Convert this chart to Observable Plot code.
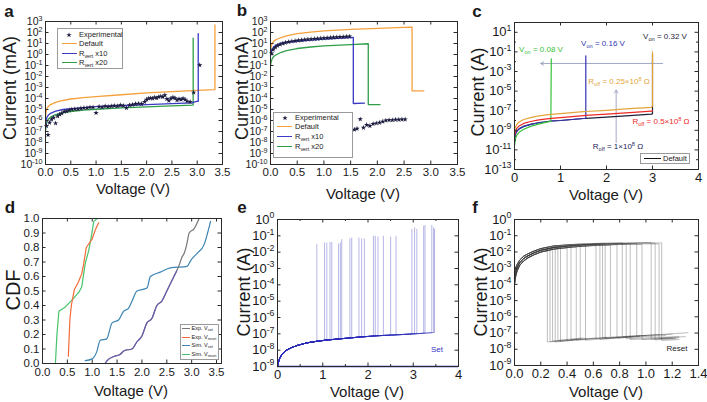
<!DOCTYPE html>
<html><head><meta charset="utf-8">
<script src="https://cdn.jsdelivr.net/npm/d3@7"></script>
<script src="https://cdn.jsdelivr.net/npm/@observablehq/plot@0.6"></script>
<style>
html,body{margin:0;padding:0;background:#fff}
#fig{position:relative;width:707px;height:402px;overflow:hidden;font-family:'Liberation Sans',Arial,Helvetica,sans-serif;color:#1a1a1a}
.pn{position:absolute}
.lbl{position:absolute;white-space:nowrap;line-height:1}
.lbl sub{font-size:0.7em;vertical-align:-0.3em;line-height:0}
.lbl sup{font-size:0.7em;vertical-align:0.45em;line-height:0}
.lg{position:absolute;border:1px solid #9a9a9a;background:#fff;box-sizing:border-box}
</style></head><body><div id="fig"></div>
<script>
// ---------------- Panel a ----------------
const aDefaultV = [0,0.01,0.03,0.06,0.1,0.2,0.3,0.5,0.75,1.0,1.5,2.0,2.5,3.0,3.34,3.35,3.35];
const aDefaultI = [2e-6,6.3e-6,1.26e-5,2e-5,2.8e-5,4.5e-5,6e-5,9e-5,1.2e-4,1.5e-4,2.2e-4,3.2e-4,4.2e-4,5.4e-4,6.3e-4,6.3e-4,5e2];
const aR10V = [0,0.01,0.03,0.06,0.1,0.2,0.35,0.5,0.75,1.0,1.5,2.0,2.5,2.9,2.95,3.0,3.02,3.02];
const aR10I = [2.5e-7,1e-6,2e-6,3.2e-6,4.5e-6,7e-6,1e-5,1.2e-5,1.5e-5,1.8e-5,2.2e-5,2.8e-5,3.4e-5,4e-5,5e-5,5.6e-5,5.6e-5,8e1];
const aR20V = [0,0.01,0.03,0.06,0.1,0.2,0.35,0.5,0.75,1.0,1.5,2.0,2.5,2.9,2.92,2.92];
const aR20I = [1e-7,3.2e-7,8e-7,1.4e-6,2e-6,3.5e-6,5.2e-6,6.6e-6,8.7e-6,1.05e-5,1.4e-5,1.7e-5,2.1e-5,2.5e-5,2.6e-5,3e1];
const aExpV = [0.02,0.05,0.08,0.12,0.16,0.2,0.24,0.28,0.32,0.37,0.42,0.47,0.52,0.58,0.64,0.7,0.76,0.82,0.88,0.94,1.0,1.06,1.12,1.18,1.24,1.3,1.36,1.42,1.48,1.54,1.6,1.66,1.72,1.78,1.84,1.9,1.96,2.0,2.04,2.08,2.12,2.16,2.2,2.24,2.28,2.32,2.36,2.4,2.44,2.48,2.52,2.56,2.6,2.64,2.68,2.72,2.76,2.8,2.86,2.93,3.05];
const aExpI = [3.2e-7,5e-8,6.3e-7,1.26e-6,1.8e-6,5.6e-7,2.5e-6,3.5e-6,4.5e-6,6.3e-6,7e-6,8.9e-6,1e-5,1.1e-5,1.1e-5,1.26e-5,1.4e-5,1.4e-5,1.6e-5,1.6e-5,5e-6,1.8e-5,1.6e-5,2e-5,1.8e-5,2e-5,2.2e-5,2e-5,2.5e-5,2.2e-5,1.4e-5,2.5e-5,2.8e-5,3.2e-5,3.5e-5,3.2e-5,5e-5,8e-5,1e-4,1.1e-4,1e-4,1.26e-4,1.1e-4,1.4e-4,1.6e-4,1.4e-4,2e-4,9e-5,6.3e-5,1e-4,1.26e-4,1.1e-4,7e-5,9e-5,8e-5,1e-4,8e-5,5.6e-5,5e-5,3.5e-4,1.1e-1];

// ---------------- Panel b ----------------
const bDefaultV = [0,0.01,0.03,0.06,0.1,0.2,0.3,0.5,0.75,1.0,1.5,2.0,2.5,2.65,2.65,2.87];
const bDefaultI = [2e0,5e0,1e1,1.6e1,2.2e1,3.5e1,5e1,8e1,1.1e2,1.4e2,1.9e2,2.4e2,2.9e2,3e2,5e-4,5e-4];
const bR10V = [0,0.01,0.03,0.06,0.1,0.2,0.3,0.5,0.75,1.0,1.25,1.5,1.55,1.55,1.76];
const bR10I = [7e-1,1.5e0,3e0,5e0,7e0,1e1,1.3e1,1.6e1,2e1,2.5e1,3e1,3.4e1,3.5e1,3.5e-5,3.8e-5];
const bR20V = [0,0.01,0.03,0.06,0.1,0.2,0.3,0.5,0.75,1.0,1.5,1.83,1.83,2.05];
const bR20I = [9e-2,2e-1,4e-1,6.5e-1,9e-1,1.6e0,2.2e0,3.5e0,4.8e0,6e0,8e0,9.5e0,2.8e-5,2.8e-5];
const bExpV = [0.02,0.05,0.09,0.13,0.18,0.23,0.28,0.34,0.4,0.46,0.52,0.58,0.64,0.7,0.76,0.82,0.88,0.94,1.0,1.06,1.12,1.18,1.24,1.3,1.36,1.42,1.48,1.57,1.62,1.68,1.74,1.8,1.86,1.92,1.98,2.04,2.1,2.16,2.22,2.28,2.34,2.4,2.46,2.52];
const bExpI = [1.26,2.8,4.5,6.3,8.3,1e1,1.2e1,1.4e1,1.6e1,1.75e1,1.9e1,2.05e1,2.2e1,2.35e1,2.5e1,2.65e1,2.8e1,2.95e1,3.1e1,3.25e1,3.4e1,3.55e1,3.7e1,3.9e1,4e1,4.2e1,4.35e1,1.5e-7,1.8e-7,1.3e-6,2.2e-7,4e-7,3.2e-7,5e-7,5.6e-7,6.3e-7,8e-7,1e-6,1.1e-6,1.1e-6,1.2e-6,1.2e-6,1.26e-6,1.26e-6];

// ---------------- Panel c ----------------
const cDefaultV = [0,0.02,0.05,0.1,0.2,0.35,0.5,0.65,0.8,1.0,1.25,1.5,1.55,2.0,2.5,2.98,3.0,3.0];
const cDefaultI = [1e-10,4e-10,7.9e-10,1.4e-9,2.5e-9,4e-9,5.6e-9,7e-9,8.9e-9,1e-8,1.26e-8,1.6e-8,1.66e-8,2.2e-8,3.2e-8,4.5e-8,5e-8,6.3e-2];
const cR05V = [0,0.02,0.05,0.1,0.2,0.35,0.5,0.65,0.8,1.0,1.25,1.5,1.55,2.0,2.5,2.98,3.0];
const cR05I = [2.5e-10,7.9e-10,1.6e-9,2.8e-9,5e-9,7.9e-9,1.1e-8,1.4e-8,1.66e-8,2e-8,2.5e-8,3.2e-8,3.3e-8,4.5e-8,6.3e-8,8.9e-8,1e-7];
const cR025V = [0,0.02,0.05,0.1,0.2,0.35,0.5,0.65,0.8,1.0,1.25,1.5,1.55,2.0,2.5,2.98,3.0,3.0];
const cR025I = [1e-9,2e-9,4e-9,7e-9,1.26e-8,2e-8,2.8e-8,3.5e-8,4.2e-8,5e-8,6.3e-8,7.9e-8,8.3e-8,1.1e-7,1.6e-7,2.2e-7,3.2e-7,1e-1];
const cV008V = [0,0.02,0.05,0.1,0.2,0.35,0.5,0.65,0.79,0.8];
const cV008I = [2.5e-11,1.26e-10,3.2e-10,6.3e-10,1.26e-9,2.5e-9,4e-9,6e-9,8.3e-9,2e-2];
const cV016V = [0,0.02,0.05,0.1,0.2,0.35,0.5,0.65,0.8,1.0,1.25,1.5,1.55,1.55];
const cV016I = [1e-10,4e-10,7.9e-10,1.4e-9,2.5e-9,4e-9,5.6e-9,7e-9,8.9e-9,1e-8,1.26e-8,1.6e-8,1.66e-8,4e-2];
const cArrowFromV = [3.22, 2.21];
const cArrowToV = [0.57, 2.21];
const cArrowFromI = [6.6e-3, 5.6e-11];
const cArrowToI = [6.6e-3, 1.3e-5];

// ---------------- Panel d ----------------
const dExpSetV = [1.26,1.3,1.45,1.55,1.65,1.8,1.9,2.0,2.1,2.2,2.3,2.4,2.5,2.6,2.7,2.75,2.8,2.85,2.9,2.95,3.05,3.15];
const dExpSetC = [0.0,0.02,0.05,0.06,0.09,0.1,0.15,0.19,0.28,0.31,0.4,0.43,0.5,0.57,0.64,0.68,0.73,0.76,0.82,0.9,0.93,1.0];
const dExpResetV = [0.52,0.55,0.58,0.64,0.72,0.79,0.83,0.88,1.0,1.06,1.13];
const dExpResetC = [0.05,0.3,0.4,0.51,0.56,0.62,0.69,0.8,0.86,0.92,0.97];
const dSimSetV = [0.86,0.99,1.09,1.16,1.29,1.4,1.53,1.63,1.73,1.8,1.9,2.1,2.17,2.37,2.57,2.91,2.98,3.11,3.25,3.32,3.38];
const dSimSetC = [0.02,0.03,0.08,0.16,0.17,0.28,0.3,0.36,0.38,0.43,0.5,0.52,0.6,0.63,0.66,0.67,0.71,0.76,0.82,0.9,0.98];
const dSimResetV = [0.26,0.29,0.33,0.46,0.6,0.73,0.79,0.86,0.93,0.99,1.03,1.1];
const dSimResetC = [0.0,0.2,0.36,0.39,0.44,0.49,0.53,0.69,0.78,0.89,0.98,1.0];

// ---------------- Panel e ----------------
const eBaseV = [0,0.02,0.05,0.1,0.2,0.3,0.45,0.65,0.87,1.1,1.4,1.8,2.2,2.7,3.2,3.45];
const eBaseI = [1e-9,1.8e-9,3.2e-9,5.6e-9,1e-8,1.4e-8,2e-8,2.8e-8,3.5e-8,4.2e-8,5e-8,6.3e-8,7.6e-8,8.9e-8,1.07e-7,1.2e-7];
const eSetV = [0.87,1.04,1.09,1.16,1.2,1.35,1.39,1.42,1.6,1.64,1.8,1.86,1.92,2.12,2.16,2.22,2.34,2.5,2.62,2.97,3.03,3.08,3.23,3.26,3.41,3.45,3.47];
const eSetBottom = [3.5e-8,4e-8,4.2e-8,4.3e-8,4.4e-8,4.9e-8,5e-8,5e-8,5.6e-8,5.7e-8,6.3e-8,6.5e-8,6.7e-8,7.3e-8,7.5e-8,7.6e-8,8e-8,8.4e-8,8.7e-8,9.8e-8,1e-7,1.03e-7,1.08e-7,1.1e-7,1.18e-7,1.2e-7,1.2e-7];
const eSetTop = [2.9e-2,3.7e-2,3.7e-2,4e-2,4e-2,3.2e-2,3.7e-2,5.9e-2,6.7e-2,7.4e-2,7.4e-2,6.5e-2,6.5e-2,9.5e-2,9.5e-2,8.5e-2,9.5e-2,8.5e-2,9.5e-2,2.5e-1,3.1e-1,2.5e-1,3.9e-1,4.3e-1,4.3e-1,3.1e-1,2.5e-1];

// ---------------- Panel f ----------------
const fBaseV = [0,0.01,0.02,0.04,0.07,0.1,0.15,0.2,0.3,0.45,0.6,0.8,1.0,1.12];
const fBaseLo = [1e-4,3.5e-4,7e-4,1.5e-3,2.8e-3,4.2e-3,6.8e-3,9.8e-3,1.5e-2,2.05e-2,2.5e-2,2.9e-2,3.15e-2,3.25e-2];
const fBaseMid = [2.5e-4,6.3e-4,1.1e-3,2.2e-3,4e-3,5.6e-3,8.9e-3,1.26e-2,1.9e-2,2.5e-2,2.95e-2,3.3e-2,3.55e-2,3.6e-2];
const fBaseHi = [6e-4,1.1e-3,1.7e-3,3.2e-3,5.5e-3,7.5e-3,1.15e-2,1.6e-2,2.35e-2,2.9e-2,3.3e-2,3.6e-2,3.8e-2,3.85e-2];
const fResetV = [0.25,0.27,0.29,0.31,0.33,0.35,0.40,0.43,0.47,0.50,0.54,0.62,0.65,0.67,0.69,0.73,0.78,0.82,0.85,0.88,0.93,0.97,1.04,1.07,1.10,1.12];
const fBaseIdx = [2,0,1,2,0,1,1,2,0,1,2,0,1,1,2,0,1,2,0,1,1,0,2,1,0,1];
const fTopI = [2e-2,1.3e-2,1.7e-2,2.6e-2,1.7e-2,2e-2,2.2e-2,2.9e-2,1.9e-2,2.5e-2,3e-2,2.3e-2,2.9e-2,2.9e-2,3.4e-2,2.6e-2,3.1e-2,3.7e-2,2.9e-2,3.2e-2,3.3e-2,2.9e-2,3.8e-2,3.5e-2,3.1e-2,3.6e-2];
const fLowStartI = [2.8e-8,3e-8,3.2e-8,2.8e-8,3.5e-8,3e-8,3.3e-8,3.8e-8,3.5e-8,4e-8,3.6e-8,4.5e-8,4e-8,5e-8,4.5e-8,5.5e-8,5e-8,6e-8,4.5e-8,4e-8,6.5e-8,4e-8,4.2e-8,3.8e-8,5e-8,3.5e-8];
const fLowEndV = [0.35,0.4,0.5,0.46,0.52,0.5,0.55,0.62,0.7,0.72,0.8,0.95,0.9,1.0,0.95,1.1,1.15,1.2,1.25,1.2,1.32,1.22,1.25,1.23,1.3,1.25];
const fLowEndI = [3.3e-8,3.6e-8,4.5e-8,3.8e-8,5e-8,4.2e-8,4.5e-8,5e-8,5.5e-8,5.5e-8,5.5e-8,6.5e-8,6e-8,7e-8,6e-8,8e-8,7e-8,8.5e-8,6e-8,5e-8,1.05e-7,4.8e-8,5.2e-8,4.5e-8,6e-8,4e-8];

// ---------------- Ticks ----------------
const ticksV35 = [0,0.5,1,1.5,2,2.5,3,3.5];
const ticksV4 = [0,1,2,3,4];
const ticksV4minor = [0.5,1.5,2.5,3.5];
const ticksV14 = [0,0.2,0.4,0.6,0.8,1.0,1.2,1.4];
const ticksIab = [1e3,1e2,1e1,1e0,1e-1,1e-2,1e-3,1e-4,1e-5,1e-6,1e-7,1e-8,1e-9,1e-10];
const ticksIc = [1e1,1e-1,1e-3,1e-5,1e-7,1e-9,1e-11,1e-13];
const ticksIcMinor = [1e0,1e-2,1e-4,1e-6,1e-8,1e-10,1e-12];
const ticksIef = [1e0,1e-1,1e-2,1e-3,1e-4,1e-5,1e-6,1e-7,1e-8,1e-9];
const ticksCDF = [0,0.1,0.2,0.3,0.4,0.5,0.6,0.7,0.8,0.9,1.0];

// ---------------- helpers ----------------
const FONT = "'Liberation Sans', Arial, Helvetica, sans-serif";
const INK = "#1a1a1a";
const NS = "http://www.w3.org/2000/svg";
const fig = document.getElementById("fig");
const pts = (V, I) => V.map((v, i) => ({x: v, y: I[i]}));
const fmt1 = d3.format(".1f");
const fmt0 = d3.format("d");
const fmtPow = d => "10^" + Math.round(Math.log10(d));

function panel(o) {
  const [fx0, fx1, fy0, fy1] = o.frame;
  const mL = fx0 - o.left, mR = o.left + o.width - fx1, mT = fy0 - o.top, mB = o.top + o.height - fy1;
  const fw = fx1 - fx0, fh = fy1 - fy0;
  const L = 3.5, Lm = 2;
  const tc = "#2a2a2a";
  const tk = (vals, len, isX) => !vals || !vals.length ? [] : isX ? [
    Plot.ruleX(vals, {x: d => d, insetTop: fh - len, stroke: tc}),
    Plot.ruleX(vals, {x: d => d, insetBottom: fh - len, stroke: tc})
  ] : [
    Plot.ruleY(vals, {y: d => d, insetRight: fw - len, stroke: tc}),
    Plot.ruleY(vals, {y: d => d, insetLeft: fw - len, stroke: tc})
  ];
  const yfs = o.yfs || o.fs;
  const svg = Plot.plot({
    width: o.width, height: o.height,
    marginLeft: mL, marginRight: mR, marginTop: mT, marginBottom: mB,
    style: {fontFamily: FONT, fontSize: o.fs + "px", color: INK, background: "transparent", overflow: "visible"},
    x: {type: "linear", domain: o.xDomain},
    y: {type: o.yType || "linear", domain: o.yDomain},
    marks: [
      ...o.marks,
      ...tk(o.xTicks, L, true), ...tk(o.xMinor, Lm, true),
      ...tk(o.yTicks, L, false), ...tk(o.yMinor, Lm, false),
      Plot.frame({stroke: tc, strokeWidth: 1}),
      Plot.axisX({ticks: o.xTicks, tickFormat: o.xFmt, tickSize: 0, tickPadding: o.xPad ?? 3, label: null, fontSize: o.fs}),
      Plot.axisY({ticks: o.yTicks, tickFormat: o.yFmt, tickSize: 0, tickPadding: o.yPad ?? 3, label: null, fontSize: yfs})
    ]
  });
  // superscript exponents in tick labels
  svg.querySelectorAll("text").forEach(t => {
    const m = /^10\^(-?\d+)$/.exec(t.textContent);
    if (m) {
      t.textContent = "10";
      const ts = document.createElementNS(NS, "tspan");
      ts.setAttribute("dy", (-(o.supShift || 0.4) * yfs).toFixed(1));
      ts.setAttribute("font-size", (0.68 * yfs).toFixed(1));
      ts.textContent = m[1];
      t.appendChild(ts);
    }
  });
  const wrap = document.createElement("div");
  wrap.className = "pn";
  wrap.style.left = o.left + "px"; wrap.style.top = o.top + "px";
  wrap.appendChild(svg);
  fig.appendChild(wrap);
}

function txt(html, cx, cy, size, opt = {}) {
  const d = document.createElement("div");
  d.className = "lbl";
  d.innerHTML = html;
  d.style.left = cx + "px"; d.style.top = cy + "px";
  d.style.fontSize = size + "px";
  if (opt.bold) d.style.fontWeight = "bold";
  if (opt.color) d.style.color = opt.color;
  const ax = opt.anchor === "start" ? "0" : "-50%";
  d.style.transform = `translate(${ax},-50%)` + (opt.rot ? ` rotate(${opt.rot}deg)` : "");
  fig.appendChild(d);
}

function legend(box, fs, sw, tx, rows) {
  const b = document.createElement("div");
  b.className = "lg";
  Object.assign(b.style, {left: box[0] + "px", top: box[1] + "px", width: box[2] + "px", height: box[3] + "px"});
  fig.appendChild(b);
  rows.forEach(r => {
    if (r.star) {
      const s = document.createElementNS(NS, "svg");
      s.setAttribute("width", 8); s.setAttribute("height", 8);
      s.style.position = "absolute";
      s.style.left = ((sw[0] + sw[1]) / 2 - 4) + "px"; s.style.top = (r.y - 4) + "px";
      const p = document.createElementNS(NS, "path");
      p.setAttribute("d", d3.symbol(d3.symbolStar, 9)());
      p.setAttribute("transform", "translate(4,4)");
      p.setAttribute("fill", r.color);
      s.appendChild(p);
      fig.appendChild(s);
    } else {
      const l = document.createElement("div");
      Object.assign(l.style, {position: "absolute", left: sw[0] + "px", top: (r.y - 0.75) + "px", width: (sw[1] - sw[0]) + "px", height: "0", borderTop: "1.5px solid " + r.color});
      fig.appendChild(l);
    }
    txt(r.html, tx, r.y, fs, {anchor: "start", color: r.tcolor || INK});
  });
}

// colors
const ORANGE = "#f6a03c", BLUE = "#3a3ac4", GREEN = "#2e9e48", STAR = "#1c1c40";

// ---------------- Panel a ----------------
panel({
  left: 0, top: 0, width: 235, height: 200, frame: [45, 222, 21, 164], fs: 11.5, yfs: 10.5, supShift: 0.36,
  xDomain: [0, 3.5], yDomain: [1e-10, 1e3], yType: "log",
  xTicks: ticksV35, xFmt: fmt1, yTicks: ticksIab, yFmt: fmtPow,
  marks: [
    Plot.line(pts(aDefaultV, aDefaultI), {x: "x", y: "y", stroke: ORANGE, strokeWidth: 1.3}),
    Plot.line(pts(aR20V, aR20I), {x: "x", y: "y", stroke: GREEN, strokeWidth: 1.3}),
    Plot.line(pts(aR10V, aR10I), {x: "x", y: "y", stroke: BLUE, strokeWidth: 1.3}),
    Plot.dot(pts(aExpV, aExpI), {x: "x", y: "y", symbol: "star", r: 1.7, fill: STAR, stroke: "none"})
  ]
});
legend([57, 28, 66, 41], 7.5, [61.5, 76.5], 79, [
  {y: 35, star: true, color: STAR, html: "Experimental"},
  {y: 44, color: ORANGE, html: "Default"},
  {y: 53.5, color: BLUE, html: "R<sub>vert</sub> x10"},
  {y: 63, color: GREEN, html: "R<sub>vert</sub> x20"}
]);

// ---------------- Panel b ----------------
panel({
  left: 235, top: 0, width: 235, height: 200, frame: [270, 457, 21, 164], fs: 11.5, yfs: 10.5, supShift: 0.36,
  xDomain: [0, 3.5], yDomain: [1e-10, 1e3], yType: "log",
  xTicks: ticksV35, xFmt: fmt1, yTicks: ticksIab, yFmt: fmtPow,
  marks: [
    Plot.line(pts(bDefaultV, bDefaultI), {x: "x", y: "y", stroke: ORANGE, strokeWidth: 1.3}),
    Plot.line(pts(bR20V, bR20I), {x: "x", y: "y", stroke: GREEN, strokeWidth: 1.3}),
    Plot.line(pts(bR10V, bR10I), {x: "x", y: "y", stroke: BLUE, strokeWidth: 1.3}),
    Plot.dot(pts(bExpV, bExpI), {x: "x", y: "y", symbol: "star", r: 1.7, fill: STAR, stroke: "none"})
  ]
});
legend([273, 112, 80, 46], 7.5, [277, 292], 295, [
  {y: 118, star: true, color: STAR, html: "Experimental"},
  {y: 127, color: ORANGE, html: "Default"},
  {y: 137, color: BLUE, html: "R<sub>vert</sub> x10"},
  {y: 147, color: GREEN, html: "R<sub>vert</sub> x20"}
]);

// ---------------- Panel c ----------------
const C_GREEN = "#36c23a", C_BLUE = "#3434b2", C_ORANGE = "#e2a53a", C_RED = "#ec2a26", C_DARK = "#1f1f3a";
const cArrows = cArrowFromV.map((v, i) => ({x1: v, x2: cArrowToV[i], y1: cArrowFromI[i], y2: cArrowToI[i]}));
panel({
  left: 470, top: 0, width: 237, height: 200, frame: [514, 698, 22, 169], fs: 13,
  xDomain: [0, 4], yDomain: [1e-13, 1e2], yType: "log",
  xTicks: ticksV4, xFmt: fmt0, yTicks: ticksIc, yMinor: ticksIcMinor, yFmt: fmtPow,
  marks: [
    Plot.arrow(cArrows, {x1: "x1", y1: "y1", x2: "x2", y2: "y2", stroke: "#a3a9c4", strokeWidth: 1, headLength: 5}),
    Plot.line(pts(cDefaultV, cDefaultI), {x: "x", y: "y", stroke: C_DARK, strokeWidth: 1.2}),
    Plot.line(pts(cV016V, cV016I), {x: "x", y: "y", stroke: C_BLUE, strokeWidth: 1.2}),
    Plot.line(pts(cV008V, cV008I), {x: "x", y: "y", stroke: C_GREEN, strokeWidth: 1.2}),
    Plot.line(pts(cR05V, cR05I), {x: "x", y: "y", stroke: C_RED, strokeWidth: 1.2}),
    Plot.line(pts(cR025V, cR025I), {x: "x", y: "y", stroke: C_ORANGE, strokeWidth: 1.2})
  ]
});
txt("V<sub>on</sub> = 0.08 V", 541, 50, 8, {color: C_GREEN});
txt("V<sub>on</sub> = 0.16 V", 603, 43.5, 8, {color: C_BLUE});
txt("V<sub>on</sub> = 0.32 V", 665, 37, 8, {color: C_DARK});
txt("R<sub>off</sub> = 0.25×10<sup>8</sup> Ω", 619, 82, 8, {color: C_ORANGE});
txt("R<sub>off</sub> = 0.5×10<sup>8</sup> Ω", 661, 122, 8, {color: C_RED});
txt("R<sub>off</sub> = 1×10<sup>8</sup> Ω", 618, 147, 8, {color: "#24245a"});
legend([640, 153, 50, 11], 7.5, [644, 661], 663, [
  {y: 158.5, color: "#111", html: "Default"}
]);

// ---------------- Panel d ----------------
const D_GRAY = "#777777", D_PURPLE = "#6a5cb0", D_RED = "#f26a36", D_TEAL = "#3b84b4", D_GREEN = "#46c46a";
const dExpSet = pts(dExpSetV, dExpSetC);
panel({
  left: 0, top: 200, width: 235, height: 202, frame: [42, 221, 218, 363], fs: 11.5, xPad: 4,
  xDomain: [0, 3.6], yDomain: [0, 1],
  xTicks: ticksV35, xFmt: fmt1, yTicks: ticksCDF, yFmt: fmt1,
  marks: [
    Plot.line(pts(dSimSetV, dSimSetC), {x: "x", y: "y", stroke: D_TEAL, strokeWidth: 1.2, curve: "monotone-x"}),
    Plot.line(dExpSet, {x: "x", y: "y", stroke: D_GRAY, strokeWidth: 1.2, curve: "monotone-x"}),
    Plot.line(dExpSet.filter(d => d.x <= 2.7), {x: "x", y: "y", stroke: D_PURPLE, strokeWidth: 1.2, curve: "monotone-x"}),
    Plot.line(pts(dSimResetV, dSimResetC), {x: "x", y: "y", stroke: D_GREEN, strokeWidth: 1.2}),
    Plot.line(pts(dExpResetV, dExpResetC), {x: "x", y: "y", stroke: D_RED, strokeWidth: 1.2})
  ]
});
legend([180, 324, 39, 36], 5.5, [182, 190], 191.5, [
  {y: 329, color: D_GRAY, html: "Exp. V<sub>set</sub>"},
  {y: 337.5, color: D_RED, html: "Exp. V<sub>reset</sub>"},
  {y: 346, color: D_TEAL, html: "Sim. V<sub>set</sub>"},
  {y: 354.5, color: D_GREEN, html: "Sim. V<sub>reset</sub>"}
]);

// ---------------- Panel e ----------------
const E_BLUE = "#2a2ab8";
const eLines = [];
eSetV.forEach((vs, c) => {
  eBaseV.forEach((v, j) => { if (v < vs) eLines.push({x: v, y: eBaseI[j], c}); });
  eLines.push({x: vs, y: eSetBottom[c], c}, {x: vs, y: eSetTop[c], c});
});
panel({
  left: 235, top: 200, width: 235, height: 202, frame: [277, 458, 219, 366], fs: 13,
  xDomain: [0, 4], yDomain: [1e-9, 1e0], yType: "log",
  xTicks: ticksV4, xMinor: ticksV4minor, xFmt: fmt0, yTicks: ticksIef, yFmt: fmtPow,
  marks: [
    Plot.ruleY([1e-9], {stroke: E_BLUE, strokeWidth: 1.5}),
    Plot.line(eLines, {x: "x", y: "y", z: "c", stroke: E_BLUE, strokeOpacity: 0.34, strokeWidth: 1})
  ]
});
txt("Set", 437, 350, 8, {color: "#3434c8"});

// ---------------- Panel f ----------------
const fBases = [fBaseLo, fBaseMid, fBaseHi];
const fLines = [];
fResetV.forEach((vr, c) => {
  const base = fBases[fBaseIdx[c]];
  fBaseV.forEach((v, j) => { if (v < vr) fLines.push({x: v, y: base[j], c}); });
  fLines.push({x: vr, y: fTopI[c], c}, {x: vr, y: fLowStartI[c], c}, {x: fLowEndV[c], y: fLowEndI[c], c});
});
panel({
  left: 470, top: 200, width: 237, height: 202, frame: [514, 698, 219, 365], fs: 13,
  xDomain: [0, 1.4], yDomain: [1e-9, 1e0], yType: "log",
  xTicks: ticksV14, xFmt: fmt1, yTicks: ticksIef, yFmt: fmtPow,
  marks: [
    Plot.line(fLines, {x: "x", y: "y", z: "c", stroke: "#3a3a3a", strokeOpacity: 0.33, strokeWidth: 1})
  ]
});
txt("Reset", 677, 349, 8, {color: "#222"});

// ---------------- titles & panel letters ----------------
const YT = 18, XT = 15, LT = 17;
txt("Current (mA)", 10, 88, YT, {rot: -90});
txt("Voltage (V)", 133, 188, XT);
txt("Current (mA)", 242, 88, YT, {rot: -90});
txt("Voltage (V)", 363, 193, XT);
txt("Current (A)", 478, 92, YT, {rot: -90});
txt("Voltage (V)", 606, 194, XT);
txt("CDF", 13, 290, YT + 2, {rot: -90});
txt("Voltage (V)", 131, 390, XT);
txt("Current (A)", 244, 292, YT, {rot: -90});
txt("Voltage (V)", 367, 391, XT);
txt("Current (A)", 481, 292, YT, {rot: -90});
txt("Voltage (V)", 606, 391, XT);
txt("a", 9, 11, LT, {bold: true});
txt("b", 242, 10, LT, {bold: true});
txt("c", 477, 11, LT, {bold: true});
txt("d", 10, 207, LT, {bold: true});
txt("e", 242, 207, LT, {bold: true});
txt("f", 475, 207, LT, {bold: true});
</script></body></html>
